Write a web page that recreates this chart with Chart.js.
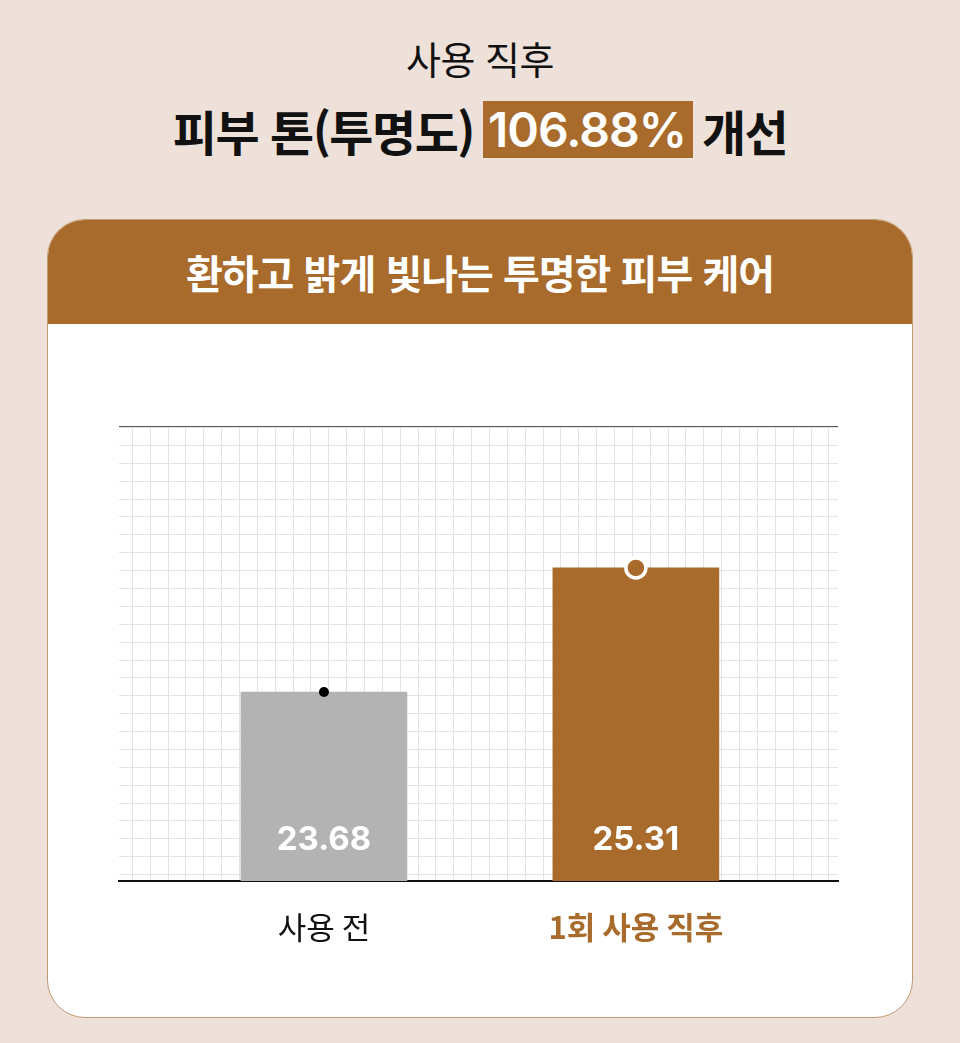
<!DOCTYPE html>
<html lang="ko">
<head>
<meta charset="utf-8">
<title>피부 톤(투명도) 개선</title>
<script src="https://cdn.jsdelivr.net/npm/chart.js@4.4.1/dist/chart.umd.min.js"></script>
<style>
  html, body { margin: 0; padding: 0; }
  body {
    width: 960px; height: 1043px; position: relative; overflow: hidden;
    background: #eee1d9; color: #111;
    font-family: "Noto Sans CJK KR", "Noto Sans", sans-serif;
  }
  .sub {
    position: absolute; top: 31px; left: 0; width: 960px;
    text-align: center; font-size: 38px; line-height: 54px; letter-spacing: -0.5px;
  }
  .headline {
    position: absolute; top: 101px; left: 0; width: 960px; height: 57px;
    display: flex; justify-content: center; align-items: center; gap: 9px;
    font-size: 48px; font-weight: 700; letter-spacing: -1.5px;
  }
  .headline .pct {
    background: #a86b2c; color: #fff;
    font-family: Inter, sans-serif; font-size: 48px; font-weight: 600; letter-spacing: -1px;
    height: 57px; line-height: 57px; padding: 0 7px 0 5px;
  }
  .card {
    position: absolute; left: 47px; top: 219px; width: 864px; height: 797px;
    background: #fff; border: 1px solid #c29a74; border-radius: 38px; overflow: hidden;
  }
  .card-head {
    height: 104px; background: #a86b2c; color: #fff;
    display: flex; align-items: center; justify-content: center;
    font-size: 40px; font-weight: 700; letter-spacing: -1px;
  }
  #chart { position: absolute; left: 0; top: 0; }
</style>
</head>
<body>
<div class="sub">사용 직후</div>
<div class="headline"><span>피부 톤(투명도)</span><span class="pct">106.88%</span><span>개선</span></div>
<div class="card"><div class="card-head">환하고 밝게 빛나는 투명한 피부 케어</div></div>
<canvas id="chart" width="960" height="1043"></canvas>

<script>
// data
const categories = ['사용 전', '1회 사용 직후'];
const values = [23.68, 25.31];
const barColors = ['#b3b3b3', '#a86b2c'];
const labelColors = ['#111111', '#a86b2c'];

const brown = '#a86b2c';
const gridColor = '#e2e2eb';
const krFont = '"Noto Sans CJK KR", "Noto Sans", sans-serif';

const points = values.map((v, i) => ({ x: i, y: v }));

// grid ticks at every whole step of the helper axes
function wholeTicks(axis) {
  const ticks = [];
  for (let v = Math.ceil(axis.min); v <= axis.max; v++) ticks.push({ value: v });
  axis.ticks = ticks;
}

// numbers written inside the bars, near the base
const valueLabels = {
  id: 'valueLabels',
  afterDraw(chart) {
    const { ctx } = chart;
    const xs = chart.scales.x;
    const bottom = chart.chartArea.bottom;
    ctx.save();
    ctx.fillStyle = '#ffffff';
    ctx.font = 'bold 33px Inter, sans-serif';
    ctx.textAlign = 'center';
    ctx.textBaseline = 'alphabetic';
    values.forEach((v, i) => {
      ctx.fillText(v.toFixed(2), xs.getPixelForValue(i), bottom - 31);
    });
    ctx.restore();
  }
};

new Chart(document.getElementById('chart'), {
  data: {
    datasets: [
      {
        type: 'line',
        data: points,
        showLine: false,
        order: 1,
        pointRadius: [5, 10],
        pointBackgroundColor: ['#000', brown],
        pointBorderColor: ['#000', '#fff'],
        pointBorderWidth: [0, 3.5]
      },
      {
        type: 'bar',
        data: points,
        backgroundColor: barColors,
        barThickness: 166,
        order: 2
      }
    ]
  },
  options: {
    responsive: false,
    animation: false,
    events: [],
    layout: { padding: { left: 119, right: 122, top: 427, bottom: 42 } },
    plugins: { legend: { display: false }, tooltip: { enabled: false } },
    scales: {
      x: {
        type: 'linear', position: 'bottom', min: -0.657, max: 1.648, offset: false, z: 1,
        afterBuildTicks: a => { a.ticks = categories.map((c, i) => ({ value: i })); },
        afterFit: a => { a.height = 120; },
        grid: { color: 'transparent', drawTicks: false, offset: false },
        border: { color: '#111', width: 2 },
        ticks: {
          padding: 28, autoSkip: false, maxRotation: 0,
          color: c => labelColors[c.index],
          font: c => ({ family: krFont, size: 31, weight: c.index ? 'bold' : 'normal' }),
          callback: v => categories[v]
        }
      },
      y: {
        min: 21.2, max: 27.16,
        afterBuildTicks: a => { a.ticks = [{ value: a.max }]; },
        afterFit: a => { a.width = 0; },
        ticks: { display: false },
        grid: { color: '#555', lineWidth: 1.5, drawTicks: false },
        border: { display: false }
      },
      gx: {
        type: 'linear', axis: 'x', position: 'top', min: -0.744, max: 39.51, offset: false,
        afterBuildTicks: wholeTicks,
        afterFit: a => { a.height = 0; },
        ticks: { display: false },
        grid: { color: gridColor, drawTicks: false },
        border: { display: false }
      },
      gy: {
        type: 'linear', axis: 'y', position: 'right', min: -0.358, max: 25.03,
        afterBuildTicks: wholeTicks,
        afterFit: a => { a.width = 0; },
        ticks: { display: false },
        grid: { color: gridColor, drawTicks: false },
        border: { display: false }
      }
    }
  },
  plugins: [valueLabels]
});
</script>
</body>
</html>
